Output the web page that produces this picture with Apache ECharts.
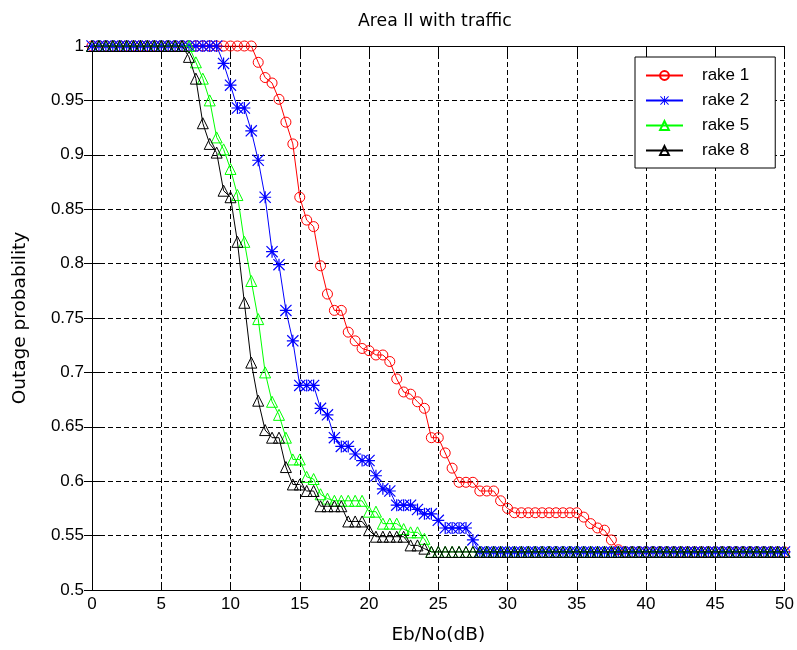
<!DOCTYPE html>
<html>
<head>
<meta charset="utf-8">
<script src="https://cdn.jsdelivr.net/npm/echarts/dist/echarts.min.js"></script>
<style>
  html, body { margin: 0; padding: 0; background: #fff; }
  #chart { width: 797px; height: 650px; }
</style>
</head>
<body>
<div id="chart"></div>
<script>
// Eb/No sample points (dB)
const ebNo = [
  0, 0.5, 1, 1.5, 2, 2.5, 3, 3.5, 4, 4.5, 5, 5.5, 6, 6.5, 7, 7.5, 8, 8.5, 9, 9.5,
  10, 10.5, 11, 11.5, 12, 12.5, 13, 13.5, 14, 14.5, 15, 15.5, 16, 16.5, 17, 17.5, 18, 18.5, 19, 19.5,
  20, 20.5, 21, 21.5, 22, 22.5, 23, 23.5, 24, 24.5, 25, 25.5, 26, 26.5, 27, 27.5, 28, 28.5, 29, 29.5,
  30, 30.5, 31, 31.5, 32, 32.5, 33, 33.5, 34, 34.5, 35, 35.5, 36, 36.5, 37, 37.5, 38, 38.5, 39, 39.5,
  40, 40.5, 41, 41.5, 42, 42.5, 43, 43.5, 44, 44.5, 45, 45.5, 46, 46.5, 47, 47.5, 48, 48.5, 49, 49.5,
  50
];

// Outage probability, rake 1
const rake1 = [
  1, 1, 1, 1, 1, 1, 1, 1, 1, 1, 1, 1, 1, 1, 1, 1, 1, 1, 1, 1,
  1, 1, 1, 1, 0.985, 0.971, 0.966, 0.951, 0.930, 0.910, 0.861, 0.840, 0.834, 0.798, 0.772, 0.757, 0.757, 0.737, 0.729, 0.722,
  0.720, 0.716, 0.716, 0.710, 0.694, 0.682, 0.680, 0.673, 0.667, 0.640, 0.640, 0.626, 0.612, 0.599, 0.599, 0.599, 0.591, 0.591, 0.591, 0.582,
  0.575, 0.571, 0.571, 0.571, 0.571, 0.571, 0.571, 0.571, 0.571, 0.571, 0.571, 0.567, 0.561, 0.557, 0.555, 0.546, 0.537, 0.535, 0.535, 0.535,
  0.535, 0.535, 0.535, 0.535, 0.535, 0.535, 0.535, 0.535, 0.535, 0.535, 0.535, 0.535, 0.535, 0.535, 0.535, 0.535, 0.535, 0.535, 0.535, 0.535,
  0.535
];

// rake 2
const rake2 = [
  1, 1, 1, 1, 1, 1, 1, 1, 1, 1, 1, 1, 1, 1, 1, 1, 1, 1, 1, 0.984,
  0.964, 0.943, 0.943, 0.922, 0.895, 0.861, 0.811, 0.799, 0.757, 0.729, 0.688, 0.688, 0.688, 0.667, 0.661, 0.640, 0.632, 0.632, 0.625, 0.619,
  0.619, 0.605, 0.593, 0.591, 0.578, 0.578, 0.578, 0.574, 0.570, 0.570, 0.564, 0.557, 0.557, 0.557, 0.557, 0.546, 0.535, 0.535, 0.535, 0.535,
  0.535, 0.535, 0.535, 0.535, 0.535, 0.535, 0.535, 0.535, 0.535, 0.535, 0.535, 0.535, 0.535, 0.535, 0.535, 0.535, 0.535, 0.535, 0.535, 0.535,
  0.535, 0.535, 0.535, 0.535, 0.535, 0.535, 0.535, 0.535, 0.535, 0.535, 0.535, 0.535, 0.535, 0.535, 0.535, 0.535, 0.535, 0.535, 0.535, 0.535,
  0.535
];

// rake 5
const rake5 = [
  1, 1, 1, 1, 1, 1, 1, 1, 1, 1, 1, 1, 1, 1, 1, 0.985, 0.970, 0.950, 0.916, 0.905,
  0.887, 0.863, 0.820, 0.784, 0.749, 0.700, 0.673, 0.661, 0.640, 0.620, 0.620, 0.604, 0.602, 0.588, 0.584, 0.582, 0.582, 0.582, 0.582, 0.582,
  0.572, 0.572, 0.561, 0.561, 0.561, 0.556, 0.553, 0.553, 0.547, 0.535, 0.535, 0.535, 0.535, 0.535, 0.535, 0.535, 0.535, 0.535, 0.535, 0.535,
  0.535, 0.535, 0.535, 0.535, 0.535, 0.535, 0.535, 0.535, 0.535, 0.535, 0.535, 0.535, 0.535, 0.535, 0.535, 0.535, 0.535, 0.535, 0.535, 0.535,
  0.535, 0.535, 0.535, 0.535, 0.535, 0.535, 0.535, 0.535, 0.535, 0.535, 0.535, 0.535, 0.535, 0.535, 0.535, 0.535, 0.535, 0.535, 0.535, 0.535,
  0.535
];

// rake 8
const rake8 = [
  1, 1, 1, 1, 1, 1, 1, 1, 1, 1, 1, 1, 1, 1, 0.990, 0.970, 0.929, 0.910, 0.902, 0.867,
  0.861, 0.820, 0.764, 0.709, 0.674, 0.647, 0.640, 0.640, 0.613, 0.597, 0.597, 0.591, 0.591, 0.577, 0.577, 0.577, 0.577, 0.563, 0.563, 0.563,
  0.555, 0.549, 0.549, 0.549, 0.549, 0.549, 0.541, 0.541, 0.538, 0.535, 0.535, 0.535, 0.535, 0.535, 0.535, 0.535, 0.535, 0.535, 0.535, 0.535,
  0.535, 0.535, 0.535, 0.535, 0.535, 0.535, 0.535, 0.535, 0.535, 0.535, 0.535, 0.535, 0.535, 0.535, 0.535, 0.535, 0.535, 0.535, 0.535, 0.535,
  0.535, 0.535, 0.535, 0.535, 0.535, 0.535, 0.535, 0.535, 0.535, 0.535, 0.535, 0.535, 0.535, 0.535, 0.535, 0.535, 0.535, 0.535, 0.535, 0.535,
  0.535
];

const seriesNames = ['rake 1', 'rake 2', 'rake 5', 'rake 8'];
const seriesValues = [rake1, rake2, rake5, rake8];

const FONT = "'Liberation Sans', Arial, Helvetica, sans-serif";
const WIDE_FONT = "'DejaVu Sans', Verdana, sans-serif";

// asterisk marker: plus and cross bars
const STAR = 'path://M9,0H11V20H9Z M0,9H20V11H0Z M1.4,0L20,18.6L18.6,20L0,1.4Z M18.6,0L20,1.4L1.4,20L0,18.6Z';

const markerStyles = [
  { symbol: 'circle',   size: 10, color: '#ff0000', fill: 'transparent' },
  { symbol: STAR,       size: 12, color: '#0000ff', fill: '#0000ff' },
  { symbol: 'triangle', size: 11, color: '#00ff00', fill: 'transparent' },
  { symbol: 'triangle', size: 11, color: '#000000', fill: 'transparent' }
];

const series = seriesNames.map((name, k) => {
  const m = markerStyles[k];
  const isPath = m.symbol === STAR;
  return {
    type: 'line',
    name: name,
    data: ebNo.map((x, i) => [x, seriesValues[k][i]]),
    symbol: m.symbol,
    symbolSize: m.size,
    showAllSymbol: true,
    lineStyle: { color: m.color, width: 1 },
    itemStyle: isPath
      ? { color: m.fill, borderWidth: 0 }
      : { color: m.fill, borderColor: m.color, borderWidth: 1 },
    emphasis: { disabled: true },
    z: 3 + k
  };
});

const dashed = { show: true, lineStyle: { color: '#000', width: 1, type: [5, 3] } };
const tickIn = { show: true, inside: true, length: 8, lineStyle: { color: '#000', width: 1 } };
const axisBlack = { show: true, lineStyle: { color: '#000', width: 1 } };
const labelStyle = { color: '#000', fontFamily: FONT, fontSize: 17 };
const nameStyle = { color: '#000', fontFamily: WIDE_FONT, fontSize: 18.5 };

const chart = echarts.init(document.getElementById('chart'), null, { renderer: 'canvas' });
chart.setOption({
  animation: false,
  backgroundColor: '#fff',
  graphic: [{
    type: 'text',
    left: 358,
    top: 13,
    style: { text: 'Area II with traffic', fill: '#000', font: "17.3px 'DejaVu Sans', Verdana, sans-serif" }
  }],
  legend: {
    orient: 'vertical',
    left: 635,
    top: 57,
    backgroundColor: '#fff',
    borderColor: '#000',
    borderWidth: 1,
    padding: [10, 26, 9, 10],
    itemGap: 8,
    itemWidth: 37,
    itemHeight: 11,
    textStyle: { color: '#000', fontFamily: FONT, fontSize: 17, lineHeight: 17, padding: [0, 0, 0, 14] },
    data: seriesNames
  },
  grid: { left: 92, right: 8, top: 46, bottom: 54, containLabel: false },
  xAxis: [
    {
      type: 'value', min: 0, max: 50, interval: 5,
      position: 'bottom',
      name: 'Eb/No(dB)', nameLocation: 'middle', nameGap: 36,
      nameTextStyle: nameStyle,
      axisLine: axisBlack, axisTick: tickIn,
      axisLabel: Object.assign({ margin: 6 }, labelStyle),
      splitLine: dashed
    },
    {
      type: 'value', min: 0, max: 50, interval: 5,
      position: 'top',
      axisLine: axisBlack, axisTick: tickIn,
      axisLabel: { show: false }, splitLine: { show: false }
    }
  ],
  yAxis: [
    {
      type: 'value', min: 0.5, max: 1, interval: 0.05,
      position: 'left',
      name: 'Outage probability', nameLocation: 'middle', nameGap: 62,
      nameTextStyle: nameStyle,
      axisLine: axisBlack, axisTick: tickIn,
      axisLabel: Object.assign({ margin: 8, formatter: v => String(+v.toFixed(2)) }, labelStyle),
      splitLine: dashed
    },
    {
      type: 'value', min: 0.5, max: 1, interval: 0.05,
      position: 'right',
      axisLine: axisBlack, axisTick: tickIn,
      axisLabel: { show: false }, splitLine: { show: false }
    }
  ],
  series: series
});
</script>
</body>
</html>
